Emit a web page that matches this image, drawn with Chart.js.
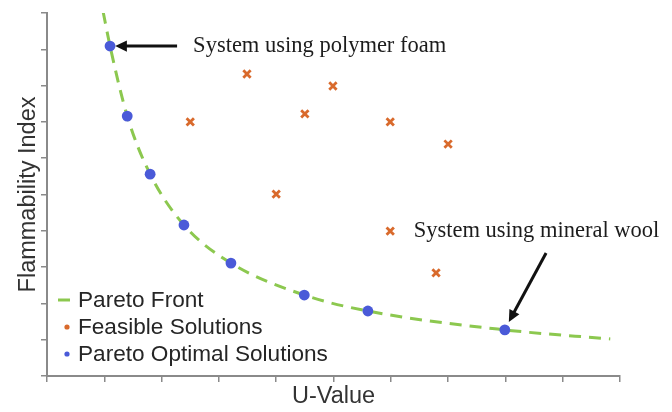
<!DOCTYPE html>
<html>
<head>
<meta charset="utf-8">
<script src="https://cdn.jsdelivr.net/npm/chart.js@4.4.1/dist/chart.umd.min.js"></script>
<style>
  body { margin: 0; background: #fff; }
  #wrap { width: 672px; height: 412px; }
</style>
</head>
<body>
<div id="wrap"><canvas id="chart" width="672" height="412"></canvas></div>
<script>
// values (axes have no numbers, 0..10 in both directions)
const frontX = [0.98, 1.10, 1.40, 1.80, 2.39, 3.21, 4.49, 5.60, 7.99, 9.83];
const frontY = [10.03, 9.09, 7.16, 5.56, 4.16, 3.11, 2.23, 1.79, 1.27, 1.02];

const optimalX = [1.10, 1.40, 1.80, 2.39, 3.21, 4.49, 5.60, 7.99];
const optimalY = [9.09, 7.16, 5.56, 4.16, 3.11, 2.23, 1.79, 1.27];

const feasibleX = [3.49, 2.50, 4.50, 4.99, 5.99, 7.00, 4.00, 5.99, 6.79];
const feasibleY = [8.32, 7.00, 7.22, 7.99, 7.00, 6.39, 5.01, 3.99, 2.84];

const seriesNames = ['Pareto Front', 'Feasible Solutions', 'Pareto Optimal Solutions'];

// callouts: text anchor, arrow tail, arrow tip (data units)
const notes = [
  { text: 'System using polymer foam', at: [2.55, 9.09], from: [2.27, 9.09], to: [1.19, 9.09] },
  { text: 'System using mineral wool', at: [6.40, 3.99], from: [8.71, 3.39], to: [8.06, 1.49] }
];

const toPoints = (xs, ys) => xs.map((x, i) => ({x: x, y: ys[i]}));

const green = '#8cc84f';
const orange = '#d96a2c';
const blue = '#4a5ad8';
const axisGray = '#8a8a8a';

const notesPlugin = {
  id: 'notes',
  afterDatasetsDraw(chart) {
    const {ctx, scales: {x, y}} = chart;
    ctx.save();
    ctx.font = '22.5px "Liberation Serif", "Times New Roman", serif';
    ctx.fillStyle = '#1c1c1c';
    ctx.textBaseline = 'middle';
    notes.forEach(n => {
      ctx.fillText(n.text, x.getPixelForValue(n.at[0]), y.getPixelForValue(n.at[1]));
      const x0 = x.getPixelForValue(n.from[0]), y0 = y.getPixelForValue(n.from[1]);
      const x1 = x.getPixelForValue(n.to[0]), y1 = y.getPixelForValue(n.to[1]);
      const ang = Math.atan2(y1 - y0, x1 - x0);
      const head = 13;
      ctx.strokeStyle = '#111';
      ctx.lineWidth = 3;
      ctx.beginPath();
      ctx.moveTo(x0, y0);
      ctx.lineTo(x1 - Math.cos(ang) * head * 0.8, y1 - Math.sin(ang) * head * 0.8);
      ctx.stroke();
      ctx.fillStyle = '#111';
      ctx.beginPath();
      ctx.moveTo(x1, y1);
      ctx.lineTo(x1 - head * Math.cos(ang - 0.45), y1 - head * Math.sin(ang - 0.45));
      ctx.lineTo(x1 - head * Math.cos(ang + 0.45), y1 - head * Math.sin(ang + 0.45));
      ctx.closePath();
      ctx.fill();
      ctx.fillStyle = '#1c1c1c';
    });

    // legend in the lower left of the plot
    const left = chart.chartArea.left;
    const rows = [chart.chartArea.bottom - 76, chart.chartArea.bottom - 49, chart.chartArea.bottom - 22];
    ctx.font = '22.6px "Liberation Sans", Arial, sans-serif';
    ctx.textBaseline = 'middle';
    chart.data.datasets.forEach((ds, i) => {
      const cy = rows[i];
      if (i === 0) {
        ctx.strokeStyle = ds.borderColor;
        ctx.lineWidth = 3;
        ctx.beginPath();
        ctx.moveTo(left + 11, cy);
        ctx.lineTo(left + 23, cy);
        ctx.stroke();
      } else {
        ctx.fillStyle = ds.borderColor;
        ctx.beginPath();
        ctx.arc(left + 20, cy, 2.6, 0, Math.PI * 2);
        ctx.fill();
      }
      ctx.fillStyle = '#262626';
      ctx.fillText(ds.label, left + 31, cy + 1);
    });
    ctx.restore();
  }
};

const axisStyle = {
  type: 'linear',
  min: 0,
  max: 10,
  ticks: { display: false, stepSize: 1 },
  grid: { drawOnChartArea: false, drawTicks: true, tickLength: 6, color: axisGray, lineWidth: 1.5 },
  border: { display: true, color: axisGray, width: 2 }
};

new Chart(document.getElementById('chart'), {
  type: 'scatter',
  data: {
    datasets: [
      {
        type: 'line',
        label: seriesNames[0],
        data: toPoints(frontX, frontY),
        borderColor: green,
        borderWidth: 3,
        borderDash: [12, 8],
        pointRadius: 0,
        cubicInterpolationMode: 'monotone',
        fill: false,
        order: 3
      },
      {
        label: seriesNames[1],
        data: toPoints(feasibleX, feasibleY),
        pointStyle: 'crossRot',
        pointRadius: 5.2,
        borderWidth: 2.8,
        borderColor: orange,
        backgroundColor: orange,
        order: 2
      },
      {
        label: seriesNames[2],
        data: toPoints(optimalX, optimalY),
        pointStyle: 'circle',
        pointRadius: 5.4,
        borderWidth: 0,
        borderColor: blue,
        backgroundColor: blue,
        order: 1
      }
    ]
  },
  options: {
    responsive: false,
    animation: false,
    layout: { padding: { top: 13, right: 52, left: 0, bottom: 0 } },
    plugins: { legend: { display: false }, tooltip: { enabled: false } },
    scales: {
      x: Object.assign({}, axisStyle, {
        title: { display: true, text: 'U-Value', color: '#333', padding: { top: 0, bottom: 1 },
                 font: { family: '"Liberation Sans", Arial, sans-serif', size: 23.5 } },
        afterFit: (s) => { s.height = 36; }
      }),
      y: Object.assign({}, axisStyle, {
        title: { display: true, text: 'Flammability Index', color: '#333', padding: { top: 14, bottom: 0 },
                 font: { family: '"Liberation Sans", Arial, sans-serif', size: 23.5 } },
        afterFit: (s) => { s.width = 47; }
      })
    }
  },
  plugins: [notesPlugin]
});
</script>
</body>
</html>
